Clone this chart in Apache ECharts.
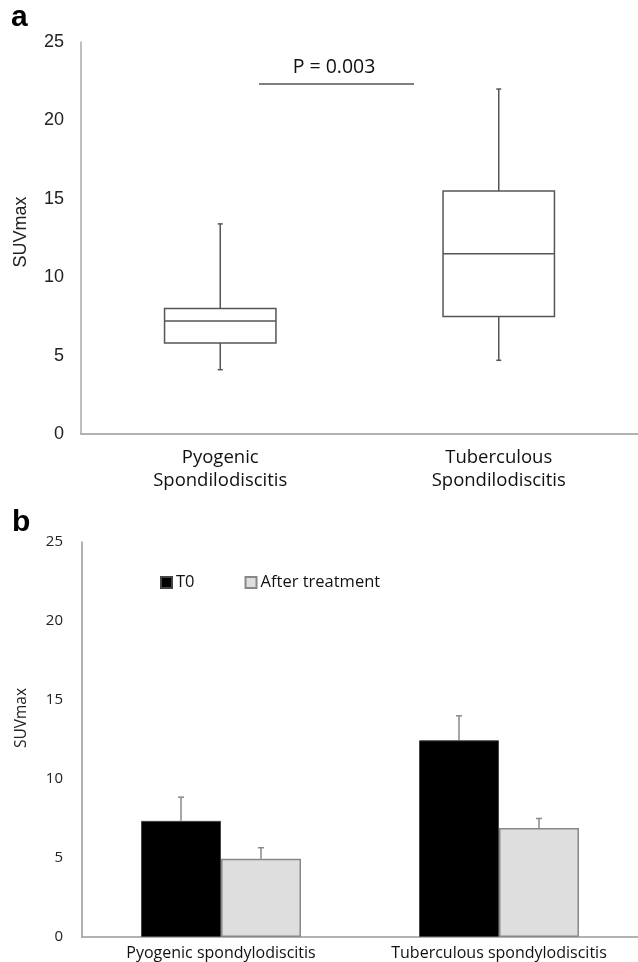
<!DOCTYPE html>
<html><head><meta charset="utf-8">
<script src="https://cdn.jsdelivr.net/npm/echarts@6/dist/echarts.min.js"></script>
<style>html,body{margin:0;padding:0;background:#fff}#c{width:638px;height:962px}</style>
</head><body><div id="c"></div>
<script>
// Panel a: box plot
const boxCategories = ['Pyogenic\nSpondilodiscitis', 'Tuberculous\nSpondilodiscitis'];
// [low, q1, median, q3, high]
const boxValues = [
  [4.1, 5.8, 7.2, 8.0, 13.4],
  [4.7, 7.5, 11.5, 15.5, 22.0]
];
const yTicksA = [0, 5, 10, 15, 20, 25];

// Panel b: bar chart
const barCategories = ['Pyogenic spondylodiscitis', 'Tuberculous spondylodiscitis'];
const seriesNames = ['T0', 'After treatment'];
const t0Values = [7.35, 12.45];
const t0ErrTop = [8.85, 14.0];
const afterValues = [4.95, 6.9];
const afterErrTop = [5.65, 7.5];

const chart = echarts.init(document.getElementById('c'), null, {renderer: 'canvas'});
const numFont = 'Liberation Sans, Arial, sans-serif';
const txtFont = 'Open Sans, Noto Sans, sans-serif';
const BAR_W = 80;

function boxRender(params, api) {
  const i = api.value(0);
  const p = [1,2,3,4,5].map(k => api.coord([i, api.value(k)]));
  const bw = api.size([1, 0])[0] * 0.4;
  const x = p[0][0];
  const st = {stroke: '#555', lineWidth: 1.5, fill: null};
  const cap = 2.5;
  return {type: 'group', children: [
    {type: 'line', shape: {x1: x, y1: p[0][1], x2: x, y2: p[1][1]}, style: st},
    {type: 'line', shape: {x1: x, y1: p[3][1], x2: x, y2: p[4][1]}, style: st},
    {type: 'line', shape: {x1: x - cap, y1: p[0][1], x2: x + cap, y2: p[0][1]}, style: st},
    {type: 'line', shape: {x1: x - cap, y1: p[4][1], x2: x + cap, y2: p[4][1]}, style: st},
    {type: 'rect', shape: {x: x - bw/2, y: p[3][1], width: bw, height: p[1][1] - p[3][1]}, style: {stroke: '#555', lineWidth: 1.5, fill: '#fff'}},
    {type: 'line', shape: {x1: x - bw/2, y1: p[2][1], x2: x + bw/2, y2: p[2][1]}, style: st}
  ]};
}

function errRender(offset) {
  return function (params, api) {
    const i = api.value(0);
    const a = api.coord([i, api.value(1)]);
    const b = api.coord([i, api.value(2)]);
    const x = a[0] + offset;
    const st = {stroke: '#888', lineWidth: 1.5};
    return {type: 'group', children: [
      {type: 'line', shape: {x1: x, y1: a[1], x2: x, y2: b[1]}, style: st},
      {type: 'line', shape: {x1: x - 3, y1: b[1], x2: x + 3, y2: b[1]}, style: st}
    ]};
  };
}

const option = {
  animation: false,
  backgroundColor: '#fff',
  grid: [
    {left: 81, top: 42, width: 562, height: 392},
    {left: 82, top: 542, width: 558, height: 395}
  ],
  xAxis: [
    {gridIndex: 0, type: 'category', data: boxCategories,
     axisLine: {lineStyle: {color: '#999', width: 1.5}}, axisTick: {show: false},
     axisLabel: {interval: 0, hideOverlap: false, color: '#111', fontFamily: txtFont, fontSize: 18.5, lineHeight: 23, margin: 12}},
    {gridIndex: 1, type: 'category', data: barCategories,
     axisLine: {lineStyle: {color: '#999', width: 1.5}}, axisTick: {show: false},
     axisLabel: {interval: 0, hideOverlap: false, color: '#111', fontFamily: txtFont, fontSize: 16, margin: 8}}
  ],
  yAxis: [
    {gridIndex: 0, type: 'value', min: 0, max: 25, interval: 5,
     axisLine: {show: true, lineStyle: {color: '#aaa', width: 1.5}}, axisTick: {show: false},
     splitLine: {show: false},
     axisLabel: {color: '#222', fontFamily: numFont, fontSize: 18, margin: 17}},
    {gridIndex: 1, type: 'value', min: 0, max: 25, interval: 5,
     axisLine: {show: true, lineStyle: {color: '#999', width: 1.5}}, axisTick: {show: false},
     splitLine: {show: false},
     axisLabel: {color: '#222', fontFamily: txtFont, fontSize: 15, margin: 19}}
  ],
  legend: {
    data: seriesNames, left: 155, top: 569, icon: 'rect', itemWidth: 11, itemHeight: 11,
    itemGap: 50, textStyle: {color: '#111', fontFamily: txtFont, fontSize: 16.5, padding: [0, 0, 0, -1]}, selectedMode: false
  },
  graphic: [
    {type: 'text', left: 11, top: 3, style: {text: 'a', font: 'bold 30px Liberation Sans, Arial', fill: '#000'}},
    {type: 'text', left: 12, top: 508, style: {text: 'b', font: 'bold 30px Liberation Sans, Arial', fill: '#000'}},
    {type: 'text', x: 21, y: 232, rotation: Math.PI/2, style: {text: 'SUVmax', font: '18px Liberation Sans, Arial', fill: '#222', align: 'center', verticalAlign: 'middle'}},
    {type: 'text', x: 22, y: 718, rotation: Math.PI/2, style: {text: 'SUVmax', font: '15.5px Open Sans', fill: '#222', align: 'center', verticalAlign: 'middle'}},
    {type: 'text', x: 334, y: 67, style: {text: 'P = 0.003', font: '19.5px Open Sans', fill: '#111', align: 'center', verticalAlign: 'middle'}},
    {type: 'line', shape: {x1: 259, y1: 84, x2: 414, y2: 84}, style: {stroke: '#555', lineWidth: 1.5}}
  ],
  series: [
    {type: 'custom', xAxisIndex: 0, yAxisIndex: 0, renderItem: boxRender,
     data: boxValues.map((v, i) => [i].concat(v))},
    {type: 'bar', name: seriesNames[0], xAxisIndex: 1, yAxisIndex: 1, data: t0Values,
     barWidth: BAR_W, barGap: '0%',
     itemStyle: {color: '#000', borderColor: '#444', borderWidth: 1}},
    {type: 'bar', name: seriesNames[1], xAxisIndex: 1, yAxisIndex: 1, data: afterValues,
     barWidth: BAR_W, barGap: '0%',
     itemStyle: {color: '#dedede', borderColor: '#888', borderWidth: 1.5}},
    {type: 'custom', xAxisIndex: 1, yAxisIndex: 1, renderItem: errRender(-BAR_W/2),
     data: t0Values.map((v, i) => [i, v, t0ErrTop[i]])},
    {type: 'custom', xAxisIndex: 1, yAxisIndex: 1, renderItem: errRender(BAR_W/2),
     data: afterValues.map((v, i) => [i, v, afterErrTop[i]])}
  ]
};
chart.setOption(option);
</script></body></html>
